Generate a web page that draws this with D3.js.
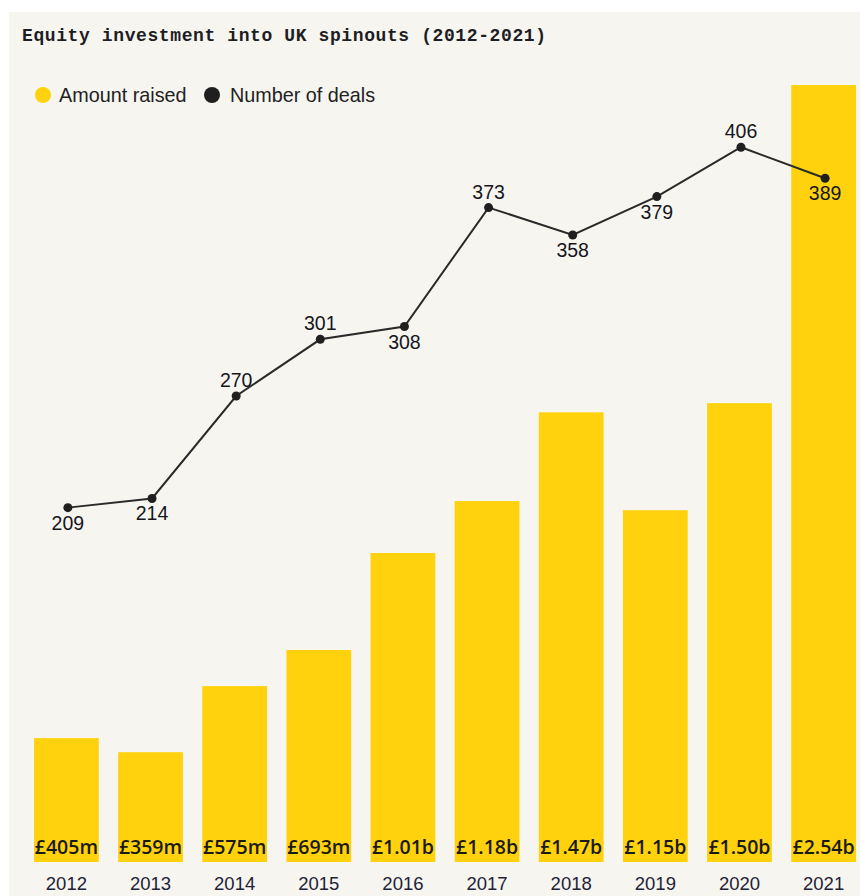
<!DOCTYPE html>
<html>
<head>
<meta charset="utf-8">
<script src="https://cdn.jsdelivr.net/npm/d3@7"></script>
<style>
  html, body { margin: 0; padding: 0; background: #ffffff; }
  svg { display: block; }
</style>
</head>
<body>
<div id="chart"></div>
<script>
// Equity investment into UK spinouts, 2012-2021
const years = ["2012", "2013", "2014", "2015", "2016", "2017", "2018", "2019", "2020", "2021"];
// Amount raised, £ millions
const amountRaised = [405, 359, 575, 693, 1010, 1180, 1470, 1150, 1500, 2540];
const amountLabels = ["£405m", "£359m", "£575m", "£693m", "£1.01b", "£1.18b", "£1.47b", "£1.15b", "£1.50b", "£2.54b"];
// Number of deals
const dealCounts = [209, 214, 270, 301, 308, 373, 358, 379, 406, 389];
// Which side of each point its label sits on
const dealLabelSide = ["below", "below", "above", "above", "below", "above", "below", "below", "above", "below"];

const W = 860, H = 896;
const yellow = "#ffd20d";
const ink = "#1d1d24";

const svg = d3.select("#chart").append("svg")
  .attr("width", W).attr("height", H);

// panel background
svg.append("rect")
  .attr("x", 9).attr("y", 12)
  .attr("width", W - 9).attr("height", H - 12)
  .attr("fill", "#f7f5f0");

// title
svg.append("text")
  .attr("x", 22).attr("y", 41)
  .attr("font-family", "'Liberation Mono', 'DejaVu Sans Mono', monospace")
  .attr("font-weight", "bold")
  .attr("font-size", 18)
  .attr("textLength", 524)
  .attr("lengthAdjust", "spacing")
  .attr("fill", ink)
  .text("Equity investment into UK spinouts (2012-2021)");

// legend
const legend = svg.append("g").attr("font-family", "'Liberation Sans', Arial, sans-serif").attr("font-size", 19.8).attr("fill", "#222");
legend.append("circle").attr("cx", 43).attr("cy", 95).attr("r", 8).attr("fill", yellow);
legend.append("text").attr("x", 59).attr("y", 102).text("Amount raised");
legend.append("circle").attr("cx", 212).attr("cy", 95).attr("r", 8).attr("fill", "#1f1f1f");
legend.append("text").attr("x", 230).attr("y", 102).text("Number of deals");

// scales
const x = d3.scaleBand()
  .domain(years)
  .range([34, 856])
  .paddingInner(0.23)
  .paddingOuter(0);

const yAmount = d3.scaleLinear()
  .domain([0, 2540])
  .range([862, 85]);

const yDeals = d3.scaleLinear()
  .domain([0, 440])
  .range([890, 85]);

// bars
svg.append("g").selectAll("rect")
  .data(years)
  .join("rect")
  .attr("x", d => x(d))
  .attr("y", (d, i) => yAmount(amountRaised[i]))
  .attr("width", x.bandwidth())
  .attr("height", (d, i) => yAmount(0) - yAmount(amountRaised[i]))
  .attr("fill", yellow);

// amount labels at the foot of each bar
svg.append("g").selectAll("text")
  .data(years)
  .join("text")
  .attr("x", d => x(d) + x.bandwidth() / 2)
  .attr("y", 854)
  .attr("text-anchor", "middle")
  .attr("font-family", "'Open Sans', 'DejaVu Sans', sans-serif")
  .attr("font-weight", 600)
  .attr("font-size", 19.5)
  .attr("fill", "#1a1a14")
  .text((d, i) => amountLabels[i]);

// x axis (year labels)
const xAxis = svg.append("g")
  .attr("transform", "translate(0,862)")
  .call(d3.axisBottom(x).tickSize(0).tickPadding(15));
xAxis.select(".domain").remove();
xAxis.selectAll("text")
  .attr("font-family", "'Liberation Sans', Arial, sans-serif")
  .attr("font-size", 18.5)
  .attr("fill", "#1e2236");

// deals line
const px = (d, i) => x(years[i]) + x.bandwidth() / 2 + 1.5;
const line = d3.line()
  .x((d, i) => px(d, i))
  .y(d => yDeals(d));

svg.append("path")
  .datum(dealCounts)
  .attr("d", line)
  .attr("fill", "none")
  .attr("stroke", "#2a2a2a")
  .attr("stroke-width", 2);

svg.append("g").selectAll("circle")
  .data(dealCounts)
  .join("circle")
  .attr("cx", (d, i) => px(d, i))
  .attr("cy", d => yDeals(d))
  .attr("r", 4.5)
  .attr("fill", "#1f1f1f");

svg.append("g").selectAll("text")
  .data(dealCounts)
  .join("text")
  .attr("x", (d, i) => px(d, i))
  .attr("y", (d, i) => yDeals(d) + (dealLabelSide[i] === "above" ? -9 : 22))
  .attr("text-anchor", "middle")
  .attr("font-family", "'Liberation Sans', Arial, sans-serif")
  .attr("font-size", 19.5)
  .attr("fill", "#15151c")
  .text(d => d);
</script>
</body>
</html>
